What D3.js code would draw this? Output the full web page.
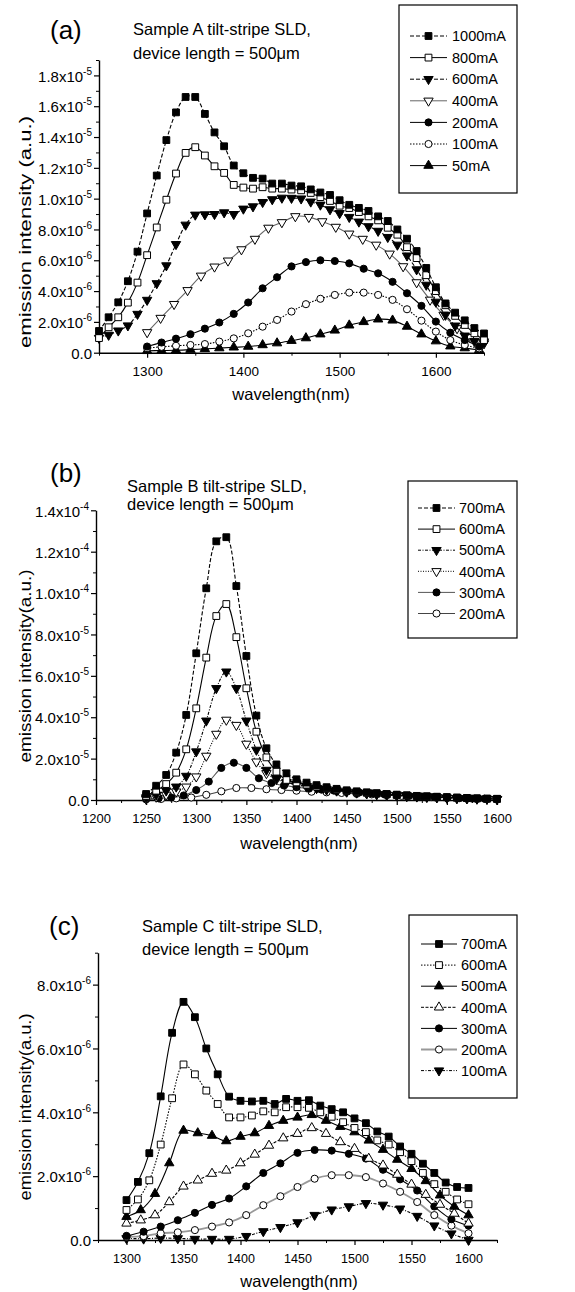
<!DOCTYPE html>
<html>
<head>
<meta charset="utf-8">
<script src="https://cdn.jsdelivr.net/npm/d3@7"></script>
<style>
  body { margin: 0; background: #fff; }
  svg { display: block; font-family: "Liberation Sans", Arial, sans-serif; }
</style>
</head>
<body>
<svg id="chart" width="575" height="1292"></svg>
<script>
// ---------- panel (a): sample A, intensity in units of 1e-6 ----------
const aUnit = 1e-6;
const aWave10 = [1250,1260,1270,1280,1290,1300,1310,1320,1330,1340,1350,1360,1370,1380,1390,1400,1410,1420,1430,1440,1450,
                 1460,1470,1480,1490,1500,1510,1520,1530,1540,1550,1560,1570,1580,1590,1600,1610,1620,1630,1640,1650];
const aWave14 = [1300,1314,1328,1342,1356,1370,1384,1398,1412,1426,1440,1454,1468,1482,1496,1510,1524,1538,1552,1566,1580,
                 1594,1608,1622,1636,1650];
const aWave15 = [1300,1315,1330,1345,1360,1375,1390,1405,1420,1435,1450,1465,1480,1495,1510,1525,1540,1555,1570,1585,1600,
                 1615,1630,1645];
const a1000 = [1.41,2.30,3.27,4.64,6.56,9.04,11.5,13.8,15.6,16.6,16.6,15.5,14.3,13.4,12.15,11.65,11.35,11.3,10.98,10.98,10.85,
               10.8,10.6,10.4,10.24,9.9,9.6,9.4,9.2,8.85,8.55,8.0,7.4,6.6,5.5,4.25,3.2,2.6,2.1,1.6,1.25];
const a800 = [0.95,1.65,2.3,3.25,4.55,6.33,8.13,9.93,11.63,12.97,13.34,12.8,12.1,11.67,10.89,10.72,10.65,10.74,10.65,10.65,10.59,
              10.54,10.37,10.1,9.85,9.54,9.39,9.13,8.85,8.59,8.11,7.66,6.85,6.14,5.03,4.0,3.08,2.39,1.8,1.26,0.82];
const a600 = [0.95,1.15,1.43,1.76,2.51,3.42,4.5,5.66,7.04,8.3,8.95,8.97,8.99,9.1,8.99,9.34,9.49,9.77,9.95,10.05,10.04,
              10.0,9.8,9.6,9.3,9.05,8.8,8.5,8.2,7.9,7.5,7.0,6.3,5.4,4.4,3.3,2.45,1.75,1.1,0.75,0.6];
const a400 = [1.32,2.25,3.15,4.05,4.99,5.58,5.97,6.7,7.38,8.1,8.46,8.85,8.8,8.52,8.16,7.72,7.38,7.0,6.42,5.6,4.56,
              3.43,2.45,1.58,1.0,0.72];
const a200 = [0.4,0.66,0.91,1.2,1.56,1.96,2.52,3.26,4.18,4.9,5.6,5.88,6.0,5.95,5.8,5.45,5.15,4.6,3.86,3.04,2.02,1.3,0.82,0.4];
const a100 = [0.3,0.38,0.45,0.5,0.56,0.72,0.93,1.26,1.69,2.13,2.67,3.15,3.5,3.75,3.9,3.9,3.75,3.43,2.82,2.08,1.37,0.82,0.5,0.28];
const a50 = [0.12,0.14,0.16,0.2,0.25,0.3,0.35,0.4,0.5,0.62,0.78,0.95,1.2,1.45,1.78,2.0,2.17,2.1,1.7,1.2,0.75,0.42,0.3,0.18];
const aXTicks = [1300,1400,1500,1600];
const aXMinor = [1250,1350,1450,1550,1650];
const aYTicks = [0,2,4,6,8,10,12,14,16,18];
const aYMinor = [1,3,5,7,9,11,13,15,17,19];

// ---------- panel (b): sample B, intensity in units of 1e-5 ----------
const bUnit = 1e-5;
const bWave10 = [1250,1260,1270,1280,1290,1300,1310,1320,1330,1340,1350,1360,1370,1380,1390,1400,1410,1420,1430,1440,1450,
                 1460,1470,1480,1490,1500,1510,1520,1530,1540,1550,1560,1570,1580,1590,1600];
const bWave12 = [1250,1262.5,1275,1287.5,1300,1312.5,1325,1337.5,1350,1362.5,1375,1387.5,1400,1412.5,1425,1437.5,1450,
                 1462.5,1475,1487.5,1500,1512.5,1525,1537.5,1550,1562.5,1575,1587.5,1600];
const bWave15 = [1250,1265,1280,1295,1310,1325,1340,1355,1370,1385,1400,1415,1430,1445,1460,1475,1490,1505,1520,1535,1550];
const b700 = [0.29,0.69,1.21,2.29,4.11,7.09,10.23,12.5,12.7,10.34,6.96,4.08,2.5,1.72,1.29,1.0,0.84,0.72,0.62,0.54,0.47,
              0.42,0.37,0.33,0.29,0.26,0.23,0.2,0.18,0.16,0.14,0.12,0.1,0.08,0.07,0.06];
const b600 = [0.2,0.45,0.77,1.32,2.45,4.43,6.88,8.89,9.47,7.87,5.4,3.3,2.06,1.37,0.97,0.85,0.74,0.65,0.57,0.5,0.44,
              0.39,0.35,0.31,0.27,0.24,0.21,0.19,0.17,0.15,0.13,0.11,0.09,0.08,0.06,0.05];
const b500 = [0.12,0.25,0.45,0.64,1.16,2.34,3.83,5.4,6.2,5.4,3.83,2.42,1.45,1.05,0.86,0.75,0.66,0.58,0.51,0.45,0.4,
              0.36,0.32,0.28,0.25,0.22,0.19,0.17,0.15,0.13,0.11,0.09,0.08,0.06,0.05,0.04];
const b400 = [0.05,0.15,0.25,0.4,0.64,1.13,2.13,3.19,3.87,3.62,2.71,1.85,1.29,1.0,0.84,0.72,0.64,0.57,0.5,0.45,0.4,
              0.35,0.31,0.27,0.24,0.21,0.18,0.16,0.14,0.12,0.1,0.08,0.07,0.06,0.05,0.04];
const b300 = [0.05,0.08,0.12,0.22,0.48,0.89,1.55,1.8,1.55,1.05,0.82,0.7,0.62,0.55,0.5,0.45,0.4,0.36,0.32,0.28,0.24,
              0.2,0.17,0.14,0.11,0.09,0.07,0.06,0.05];
const b200 = [0.03,0.05,0.08,0.12,0.25,0.42,0.58,0.58,0.52,0.48,0.45,0.4,0.37,0.34,0.3,0.27,0.24,0.2,0.17,0.14,0.11];
const bXTicks = [1200,1250,1300,1350,1400,1450,1500,1550,1600];
const bXMinor = [1225,1275,1325,1375,1425,1475,1525,1575];
const bYTicks = [0,2,4,6,8,10,12,14];
const bYMinor = [1,3,5,7,9,11,13];

// ---------- panel (c): sample C, intensity in units of 1e-6 ----------
const cUnit = 1e-6;
const cWave10 = [1300,1310,1320,1330,1340,1350,1360,1370,1380,1390,1400,1410,1420,1430,1440,1450,1460,1470,1480,1490,1500,
                 1510,1520,1530,1540,1550,1560,1570,1580,1590,1600];
const cWave12 = [1300,1312.5,1325,1337.5,1350,1362.5,1375,1387.5,1400,1412.5,1425,1437.5,1450,1462.5,1475,1487.5,1500,
                 1512.5,1525,1537.5,1550,1562.5,1575,1587.5,1600];
const cWave15 = [1300,1315,1330,1345,1360,1375,1390,1405,1420,1435,1450,1465,1480,1495,1510,1525,1540,1555,1570,1585,1600];
const c700 = [1.25,1.82,2.72,4.5,6.49,7.46,6.98,6.0,5.19,4.49,4.36,4.34,4.36,4.26,4.42,4.36,4.38,4.21,4.1,4.0,3.81,
              3.66,3.4,3.24,2.93,2.7,2.39,2.1,1.8,1.66,1.63];
const c600 = [0.94,1.27,1.87,2.99,4.44,5.5,5.19,4.68,4.26,3.84,3.84,3.9,4.03,4.0,4.16,4.16,4.14,4.0,3.86,3.69,3.51,
              3.38,3.12,2.99,2.75,2.47,2.1,1.75,1.51,1.27,1.12];
const c500 = [0.73,0.94,1.45,2.41,3.43,3.35,3.27,3.1,3.24,3.35,3.58,3.74,3.84,3.92,3.74,3.55,3.38,3.12,2.83,2.52,2.23,
              1.85,1.4,1.05,0.78];
const c400 = [0.52,0.62,0.78,1.19,1.68,1.87,2.08,2.18,2.41,2.68,2.96,3.19,3.33,3.51,3.33,3.07,2.86,2.55,2.34,2.05,1.74,
              1.42,1.11,0.83,0.52];
const c300 = [0.13,0.26,0.42,0.62,0.85,1.1,1.3,1.68,2.1,2.4,2.73,2.82,2.8,2.7,2.55,2.2,1.9,1.55,1.05,0.65,0.45];
const c200 = [0.1,0.12,0.21,0.24,0.31,0.42,0.55,0.78,1.09,1.37,1.66,1.92,2.03,2.03,1.97,1.77,1.51,1.19,0.78,0.45,0.21];
const c100 = [0.05,0.04,0.06,0.05,0.03,0.03,0.03,0.12,0.27,0.4,0.55,0.78,0.95,1.05,1.15,1.1,0.98,0.75,0.45,0.2,0.0];
const cXTicks = [1300,1350,1400,1450,1500,1550,1600];
const cXMinor = [1275,1325,1375,1425,1475,1525,1575,1625];
const cYTicks = [0,2,4,6,8];
const cYMinor = [1,3,5,7,9];

const svg = d3.select('#chart');

// panel layouts (pixel boxes, text placement)
const panels = [
	{
		letter: '(a)', letterPos: [50, 39],
		title: ['Sample A tilt-stripe SLD,', 'device length = 500\u03bcm'], titlePos: [133, 35, 59],
		unit: aUnit, xDomain: [1250, 1650], yDomain: [0, 19],
		xRange: [99, 484], yRange: [352.7, 60],
		xTicks: aXTicks, xMinor: aXMinor, yTicks: aYTicks, yMinor: aYMinor, xTickSize: 13.5,
		xLabel: 'wavelength(nm)', xLabelPos: [291, 400],
		yLabel: 'emission intensity (a.u.)', yLabelPos: [31, 232], yLabelLen: 232,
		legendBox: [399, 5, 118, 188], legendRow: [36, 21.6], legendLine: [410, 447], legendText: 452,
		series: [
			{ name: '1000mA', wave: aWave10, val: a1000, sym: 'square', fill: true, dash: '4,2' },
			{ name: '800mA', wave: aWave10, val: a800, sym: 'square', fill: false, dash: null },
			{ name: '600mA', wave: aWave10, val: a600, sym: 'down', fill: true, dash: '4,2' },
			{ name: '400mA', wave: aWave14, val: a400, sym: 'down', fill: false, dash: null, color: '#666' },
			{ name: '200mA', wave: aWave15, val: a200, sym: 'circle', fill: true, dash: null },
			{ name: '100mA', wave: aWave15, val: a100, sym: 'circle', fill: false, dash: '1.5,1.5' },
			{ name: '50mA', wave: aWave15, val: a50, sym: 'up', fill: true, dash: null }
		]
	},
	{
		letter: '(b)', letterPos: [50, 482],
		title: ['Sample B tilt-stripe SLD,', 'device length = 500\u03bcm'], titlePos: [127, 492, 510],
		unit: bUnit, xDomain: [1200, 1600], yDomain: [0, 14],
		xRange: [96, 497], yRange: [800, 510.3],
		xTicks: bXTicks, xMinor: bXMinor, yTicks: bYTicks, yMinor: bYMinor, xTickSize: 13,
		xLabel: 'wavelength(nm)', xLabelPos: [299, 849],
		yLabel: 'emission intensity(a.u.)', yLabelPos: [31, 666], yLabelLen: 193,
		legendBox: [408, 481, 109, 157], legendRow: [508, 21.1], legendLine: [418, 455], legendText: 459,
		series: [
			{ name: '700mA', wave: bWave10, val: b700, sym: 'square', fill: true, dash: '4,2' },
			{ name: '600mA', wave: bWave10, val: b600, sym: 'square', fill: false, dash: null },
			{ name: '500mA', wave: bWave10, val: b500, sym: 'down', fill: true, dash: '3,1.5,1,1.5' },
			{ name: '400mA', wave: bWave10, val: b400, sym: 'down', fill: false, dash: '1,1.5' },
			{ name: '300mA', wave: bWave12, val: b300, sym: 'circle', fill: true, dash: null, color: '#555' },
			{ name: '200mA', wave: bWave15, val: b200, sym: 'circle', fill: false, dash: null, color: '#444' }
		]
	},
	{
		letter: '(c)', letterPos: [49, 935],
		title: ['Sample C tilt-stripe SLD,', 'device length = 500\u03bcm'], titlePos: [142, 932, 955],
		unit: cUnit, xDomain: [1275, 1625], yDomain: [0, 9],
		xRange: [98, 497], yRange: [1240, 952.7],
		xTicks: cXTicks, xMinor: cXMinor, yTicks: cYTicks, yMinor: cYMinor, xTickSize: 12.5,
		xLabel: 'wavelength(nm)', xLabelPos: [299, 1287],
		yLabel: 'emission intensity(a.u.)', yLabelPos: [31, 1107], yLabelLen: 187,
		legendBox: [409, 915, 108, 183], legendRow: [944, 21.1], legendLine: [421, 457], legendText: 461,
		series: [
			{ name: '700mA', wave: cWave10, val: c700, sym: 'square', fill: true, dash: null },
			{ name: '600mA', wave: cWave10, val: c600, sym: 'square', fill: false, dash: '1.5,1.5' },
			{ name: '500mA', wave: cWave12, val: c500, sym: 'up', fill: true, dash: null },
			{ name: '400mA', wave: cWave12, val: c400, sym: 'up', fill: false, dash: '3,1.5' },
			{ name: '300mA', wave: cWave15, val: c300, sym: 'circle', fill: true, dash: null },
			{ name: '200mA', wave: cWave15, val: c200, sym: 'circle', fill: false, dash: null, color: '#999', width: 1.8 },
			{ name: '100mA', wave: cWave15, val: c100, sym: 'down', fill: true, dash: '3,1.5,1,1.5' }
		]
	}
];

const symbolTypes = {
	square: [d3.symbolSquare, 46, 0],
	circle: [d3.symbolCircle, 40, 0],
	up: [d3.symbolTriangle, 38, 0],
	down: [d3.symbolTriangle, 38, 180]
};

function drawMarker(g, s, cx, cy) {
	const t = symbolTypes[s.sym];
	g.append('path')
		.attr('d', d3.symbol().type(t[0]).size(t[1])())
		.attr('transform', 'translate(' + cx + ',' + cy + ') rotate(' + t[2] + ')')
		.attr('fill', s.fill ? '#000' : '#fff')
		.attr('stroke', '#000')
		.attr('stroke-width', 1);
}

// "1.8x10^-5" style label
function sciLabel(text, v) {
	if (v === 0) { text.text('0.0'); return; }
	const e = Math.floor(Math.log10(v) + 1e-9);
	const m = v / Math.pow(10, e);
	text.append('tspan').text(m.toFixed(1) + 'x10');
	text.append('tspan').attr('dy', -7).attr('font-size', 10).text(e);
}

function drawPanel(p) {
	const g = svg.append('g');
	const x = d3.scaleLinear().domain(p.xDomain).range(p.xRange);
	const y = d3.scaleLinear().domain(p.yDomain).range(p.yRange);
	const y0 = p.yRange[0], x0 = p.xRange[0];

	// minor ticks
	g.append('g').attr('transform', 'translate(0,' + y0 + ')')
		.call(d3.axisBottom(x).tickValues(p.xMinor).tickSize(3).tickSizeOuter(0).tickFormat(''))
		.call(a => a.select('.domain').remove());
	g.append('g').attr('transform', 'translate(' + x0 + ',0)')
		.call(d3.axisLeft(y).tickValues(p.yMinor).tickSize(3).tickSizeOuter(0).tickFormat(''))
		.call(a => a.select('.domain').remove());

	// major x axis
	const xa = g.append('g').attr('transform', 'translate(0,' + y0 + ')')
		.call(d3.axisBottom(x).tickValues(p.xTicks).tickSize(5).tickSizeOuter(0).tickPadding(9)
			.tickFormat(d3.format('d')));
	xa.selectAll('text').attr('font-size', p.xTickSize).attr('fill', '#000');

	// major y axis
	const ya = g.append('g').attr('transform', 'translate(' + x0 + ',0)')
		.call(d3.axisLeft(y).tickValues(p.yTicks).tickSize(5).tickSizeOuter(0).tickFormat(''));
	ya.selectAll('.tick').each(function(d) {
		const t = d3.select(this).append('text')
			.attr('x', -7).attr('dy', '0.38em')
			.attr('text-anchor', 'end').attr('font-size', 15).attr('fill', '#000');
		sciLabel(t, d * p.unit);
	});

	[xa, ya].forEach(a => {
		a.attr('font-family', null);
		a.select('.domain').attr('stroke-width', 1.4);
		a.selectAll('line').attr('stroke-width', 1.2);
	});
	g.selectAll('.tick line').attr('stroke', '#000');

	// series lines
	const line = d3.line()
		.x(d => x(d[0]))
		.y(d => y(d[1]))
		.curve(d3.curveCatmullRom);

	p.series.slice().reverse().forEach(s => {
		const pts = s.wave.map((w, i) => [w, s.val[i]]);
		g.append('path')
			.datum(pts)
			.attr('d', line)
			.attr('fill', 'none')
			.attr('stroke', s.color || '#000')
			.attr('stroke-width', s.width || 1.1)
			.attr('stroke-dasharray', s.dash);
		const mg = g.append('g');
		pts.forEach(d => drawMarker(mg, s, x(d[0]), y(d[1])));
	});

	// axis titles
	g.append('text')
		.attr('x', p.xLabelPos[0]).attr('y', p.xLabelPos[1])
		.attr('text-anchor', 'middle').attr('font-size', 16.5)
		.text(p.xLabel);
	g.append('text')
		.attr('transform', 'translate(' + p.yLabelPos[0] + ',' + p.yLabelPos[1] + ') rotate(-90)')
		.attr('x', -p.yLabelLen / 2)
		.attr('font-size', 17)
		.attr('textLength', p.yLabelLen)
		.attr('lengthAdjust', 'spacingAndGlyphs')
		.text(p.yLabel);

	// panel letter and sample text
	g.append('text')
		.attr('x', p.letterPos[0]).attr('y', p.letterPos[1])
		.attr('font-size', 26)
		.text(p.letter);
	g.append('text')
		.attr('x', p.titlePos[0]).attr('y', p.titlePos[1])
		.attr('font-size', 16.5)
		.text(p.title[0]);
	g.append('text')
		.attr('x', p.titlePos[0]).attr('y', p.titlePos[2])
		.attr('font-size', 16.5)
		.text(p.title[1]);

	// legend
	const lb = p.legendBox;
	const lg = g.append('g');
	lg.append('rect')
		.attr('x', lb[0]).attr('y', lb[1]).attr('width', lb[2]).attr('height', lb[3])
		.attr('fill', '#fff').attr('stroke', '#000').attr('stroke-width', 1.2);
	p.series.forEach((s, i) => {
		const ry = p.legendRow[0] + i * p.legendRow[1];
		lg.append('line')
			.attr('x1', p.legendLine[0]).attr('x2', p.legendLine[1])
			.attr('y1', ry).attr('y2', ry)
			.attr('stroke', s.color || '#000')
			.attr('stroke-width', s.width || 1)
			.attr('stroke-dasharray', s.dash);
		drawMarker(lg, s, (p.legendLine[0] + p.legendLine[1]) / 2, ry);
		lg.append('text')
			.attr('x', p.legendText).attr('y', ry).attr('dy', '0.36em')
			.attr('font-size', 14.5)
			.text(s.name);
	});
}

panels.forEach(drawPanel);
</script>
</body>
</html>
